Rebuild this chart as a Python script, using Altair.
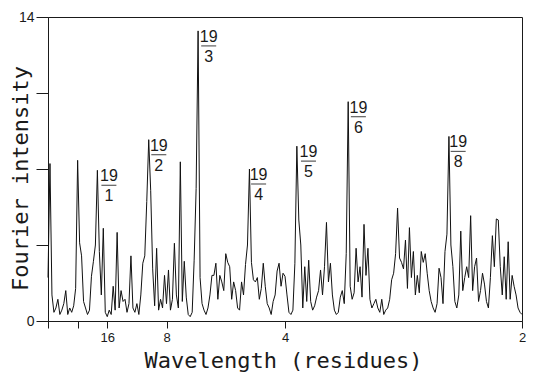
import altair as alt
import pandas as pd

# Fourier intensity sampled on a uniform frequency grid (cycles/residue), 0 .. 0.5
freq_step = 1 / 480
intensity = [
    2.0, 7.25, 1.2, 0.4, 0.6, 1.0, 0.3, 0.5, 0.8, 1.4,
    0.3, 0.6, 0.4, 0.7, 1.5, 7.4, 3.6, 3.0, 0.9, 0.6,
    0.3, 0.5, 2.06, 2.75, 3.5, 6.94, 3.2, 1.2, 4.27, 0.4,
    0.2, 0.5, 0.3, 1.6, 0.5, 4.08, 0.6, 1.4, 0.9, 1.0,
    0.4, 0.8, 3.0, 0.6, 0.4, 0.8, 0.3, 1.2, 2.66, 3.0,
    5.5, 8.35, 6.0, 2.4, 0.7, 3.35, 0.5, 1.0, 0.6, 2.1,
    0.8, 2.35, 0.5, 1.0, 3.58, 1.2, 0.6, 7.33, 0.9, 2.75,
    1.1, 0.3, 0.2, 0.4, 2.8, 6.1, 13.36, 2.0, 0.8, 0.5,
    0.3, 0.6, 1.2, 2.1, 2.1, 2.66, 1.0, 2.1, 1.8, 1.4,
    3.1, 2.7, 2.5, 1.0, 1.8, 1.4, 0.6, 0.5, 1.8, 1.2,
    2.6, 3.5, 7.0, 2.7, 1.9, 1.8, 2.0, 1.0, 1.5, 2.66,
    1.6, 0.8, 0.6, 0.3, 0.9, 1.2, 2.3, 2.66, 1.6, 2.2,
    2.06, 1.2, 0.4, 0.3, 0.5, 2.66, 8.05, 4.65, 3.5, 0.6,
    2.5, 0.9, 2.8, 0.9, 0.5, 0.7, 1.1, 1.4, 2.35, 1.2,
    2.5, 4.54, 1.8, 2.66, 1.2, 0.5, 0.3, 0.4, 1.1, 1.4,
    0.8, 3.1, 10.1, 1.6, 1.0, 1.3, 3.35, 1.8, 2.5, 1.1,
    4.45, 2.1, 3.35, 1.0, 0.6, 0.8, 1.0, 0.6, 0.4, 1.0,
    0.3, 0.5, 0.6, 1.0, 1.9, 2.2, 3.1, 5.2, 2.9, 2.7,
    2.4, 3.73, 1.5, 4.3, 2.0, 3.2, 1.2, 2.1, 1.3, 3.2,
    2.7, 3.1, 2.2, 1.4, 0.9, 0.6, 0.4, 0.8, 2.43, 2.0,
    0.8, 3.2, 4.0, 8.5, 3.5, 2.5, 0.9, 0.6, 1.2, 4.14,
    1.4, 2.0, 2.5, 2.0, 4.85, 1.4, 2.5, 2.9, 0.9, 1.4,
    2.2, 1.7, 0.9, 0.6, 2.0, 3.93, 2.5, 4.7, 4.65, 2.5,
    1.2, 2.96, 1.0, 3.65, 1.0, 2.1, 1.6, 1.2, 0.6, 0.4,
    0.3,
]

# labelled harmonics of the 19-residue repeat (wavelength 19/n)
label_n = [1, 2, 3, 4, 5, 6, 8]
label_height = [6.94, 8.35, 13.36, 7.0, 8.05, 10.1, 8.5]

x_ticks = [0, 1 / 32, 1 / 16, 1 / 8, 1 / 4, 1 / 2]
y_ticks = [0, 3.5, 7, 10.5, 14]

spec = pd.DataFrame({
    "freq": [i * freq_step for i in range(len(intensity))],
    "intensity": intensity,
})
labels = pd.DataFrame({
    "freq": [n / 19 for n in label_n],
    "top": label_height,
    "num": ["19"] * len(label_n),
    "den": [str(n) for n in label_n],
})

FONT_MONO = "DejaVu Sans Mono"
FONT = "Liberation Sans"
INK = "#1a1a1a"

x_enc = alt.X(
    "freq:Q",
    scale=alt.Scale(domain=[0, 0.5], nice=False, zero=False),
    axis=alt.Axis(
        values=x_ticks,
        labelExpr="datum.value > 0.05 ? format(1 / datum.value, 'd') : ''",
        title="Wavelength (residues)",
        grid=False,
        tickSize=7,
        labelPadding=3,
        labelFlush=False,
        labelOverlap=False,
        labelBound=False,
        labelFont=FONT,
        labelFontSize=13,
        labelColor=INK,
        titleFont=FONT_MONO,
        titleFontSize=22,
        titleFontWeight="normal",
        titleColor=INK,
        titleX=235,
        titleY=29,
        titleAnchor="middle",
        titleAlign="center",
        domainColor=INK,
        tickColor=INK,
    ),
)
y_enc = alt.Y(
    "intensity:Q",
    scale=alt.Scale(domain=[0, 14], nice=False),
    axis=alt.Axis(
        values=y_ticks,
        labelExpr="(datum.value == 0 || datum.value == 14) ? toString(datum.value) : ''",
        title="Fourier intensity",
        grid=False,
        tickSize=12,
        labelPadding=2,
        labelFont=FONT,
        labelFontSize=14,
        labelColor=INK,
        titleFont=FONT_MONO,
        titleFontSize=22,
        titleFontWeight="normal",
        titleColor=INK,
        titleX=-16,
        titleY=161,
        titleAngle=270,
        titleBaseline="bottom",
        titleAlign="center",
        domainColor=INK,
        tickColor=INK,
    ),
)

line = alt.Chart(spec).mark_line(color="#111111", strokeWidth=1).encode(x=x_enc, y=y_enc)

lx = alt.X("freq:Q", scale=alt.Scale(domain=[0, 0.5], nice=False, zero=False))
ly = alt.Y("top:Q", scale=alt.Scale(domain=[0, 14], nice=False))

num = alt.Chart(labels).mark_text(
    font=FONT, fontSize=16, align="center", baseline="top", dx=11, dy=-2, color=INK
).encode(x=lx, y=ly, text="num:N")
bar = alt.Chart(labels).mark_tick(
    orient="horizontal", size=15, thickness=1.2, xOffset=11, yOffset=15, color=INK
).encode(x=lx, y=ly)
den = alt.Chart(labels).mark_text(
    font=FONT, fontSize=16, align="center", baseline="top", dx=11, dy=18, color=INK
).encode(x=lx, y=ly, text="den:N")

chart = (
    alt.layer(line, num, bar, den)
    .properties(
        width=474,
        height=304,
        autosize=alt.AutoSizeParams(type="none"),
        padding={"left": 40, "top": 9, "right": 5, "bottom": 52},
        background="white",
    )
    .configure_view(stroke=INK, strokeWidth=1)
)

chart.save("out.html", embed_options={"renderer": "svg", "actions": False})
